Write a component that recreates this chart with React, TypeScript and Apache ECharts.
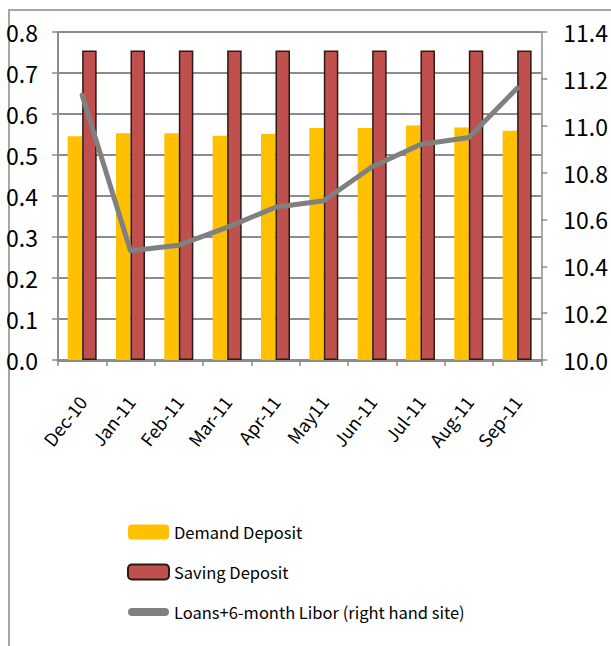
import React, { useEffect, useRef } from "react";
import * as echarts from "echarts";

// Monthly rates, Dec 2010 – Sep 2011
const months = ["Dec-10", "Jan-11", "Feb-11", "Mar-11", "Apr-11", "May11", "Jun-11", "Jul-11", "Aug-11", "Sep-11"];
const demandDeposit = [0.546, 0.553, 0.553, 0.547, 0.551, 0.566, 0.566, 0.572, 0.567, 0.559];
const savingDeposit = [0.755, 0.755, 0.755, 0.755, 0.755, 0.755, 0.755, 0.755, 0.755, 0.755];
const loansLibor = [11.13, 10.466, 10.49, 10.566, 10.652, 10.68, 10.825, 10.92, 10.95, 11.16];

const leftAxisRange = { min: 0, max: 0.8, step: 0.1 };
const rightAxisRange = { min: 10, max: 11.4, step: 0.2 };

const FONT = "'Noto Sans CJK SC', 'DejaVu Sans Condensed', sans-serif";
const GRID_GRAY = "#8c8c8c";

// thick rounded stroke used as the line series' legend key
const LINE_KEY = "path://M4,0 L37,0 A4,4,0,0,1,37,8 L4,8 A4,4,0,0,1,4,0 Z";

export default function App() {
  const ref = useRef<HTMLDivElement>(null);

  useEffect(() => {
    if (!ref.current) return;
    const chart = echarts.init(ref.current, undefined, { renderer: "svg" });

    chart.setOption({
      animation: false,
      backgroundColor: "#ffffff",
      textStyle: { fontFamily: FONT },
      graphic: [
        {
          type: "rect",
          shape: { x: 9, y: 10, width: 1000, height: 1000 },
          style: { fill: "none", stroke: "#a6a6a6", lineWidth: 2 },
          silent: true,
          z: -1,
        },
      ],
      grid: { left: 58, right: 58, top: 32, bottom: 286, containLabel: false },
      legend: {
        orient: "vertical",
        left: 127,
        top: 522,
        padding: 0,
        itemWidth: 41,
        itemHeight: 15,
        itemGap: 20,
        symbolKeepAspect: true,
        textStyle: { fontFamily: FONT, fontSize: 16.5, lineHeight: 20, color: "#000" },
        data: [
          { name: "Demand Deposit" },
          { name: "Saving Deposit" },
          {
            name: "Loans+6-month Libor (right hand site)",
            icon: LINE_KEY,
            itemStyle: { color: "#808080", borderWidth: 0 },
          },
        ],
      },
      xAxis: {
        type: "category",
        data: months,
        boundaryGap: true,
        axisLine: { lineStyle: { color: GRID_GRAY, width: 3 } },
        axisTick: { show: true, length: 6, lineStyle: { color: GRID_GRAY, width: 1.5 } },
        axisLabel: {
          rotate: 52,
          margin: 38,
          fontFamily: FONT,
          fontSize: 18,
          color: "#000",
          interval: 0,
        },
      },
      yAxis: [
        {
          type: "value",
          min: leftAxisRange.min,
          max: leftAxisRange.max,
          interval: leftAxisRange.step,
          axisLine: { show: true, lineStyle: { color: GRID_GRAY, width: 2 } },
          axisTick: { show: true, length: 6, lineStyle: { color: GRID_GRAY, width: 1.5 } },
          splitLine: { show: true, lineStyle: { color: GRID_GRAY, width: 2 } },
          axisLabel: {
            margin: 20,
            fontFamily: FONT,
            fontSize: 23,
            color: "#000",
            formatter: (v: number) => v.toFixed(1),
          },
        },
        {
          type: "value",
          position: "right",
          min: rightAxisRange.min,
          max: rightAxisRange.max,
          interval: rightAxisRange.step,
          axisLine: { show: true, lineStyle: { color: GRID_GRAY, width: 1.5 } },
          axisTick: { show: true, length: 6, lineStyle: { color: GRID_GRAY, width: 1.5 } },
          splitLine: { show: false },
          axisLabel: {
            margin: 22,
            fontFamily: FONT,
            fontSize: 23,
            color: "#000",
            formatter: (v: number) => v.toFixed(1),
          },
        },
      ],
      series: [
        {
          name: "Demand Deposit",
          type: "bar",
          data: demandDeposit,
          barWidth: 14.5,
          barGap: "0%",
          itemStyle: { color: "#FFC000" },
        },
        {
          name: "Saving Deposit",
          type: "bar",
          data: savingDeposit,
          barWidth: 14.5,
          barGap: "0%",
          itemStyle: { color: "#C0504D", borderColor: "#2b1b12", borderWidth: 1.5 },
        },
        {
          name: "Loans+6-month Libor (right hand site)",
          type: "line",
          yAxisIndex: 1,
          data: loansLibor,
          symbol: "none",
          showSymbol: false,
          z: 5,
          lineStyle: { color: "#808080", width: 5, cap: "round", join: "round" },
          itemStyle: { color: "#808080" },
        },
      ],
    });

    return () => chart.dispose();
  }, []);

  return (
    <div
      ref={ref}
      style={{ position: "fixed", left: 0, top: 0, width: 611, height: 646 }}
    />
  );
}
